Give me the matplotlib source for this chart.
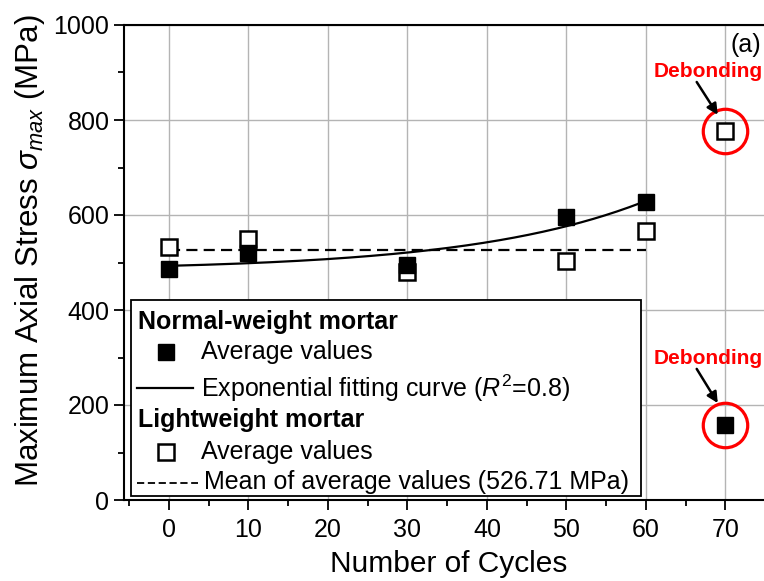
import numpy as np
import matplotlib
matplotlib.use("Agg")
import matplotlib.pyplot as plt
from matplotlib.lines import Line2D
from matplotlib.patches import Rectangle

plt.rcParams['font.family'] = ['Liberation Sans', 'DejaVu Sans']
plt.rcParams['mathtext.fontset'] = 'custom'
plt.rcParams['mathtext.rm'] = 'Liberation Sans'
plt.rcParams['mathtext.it'] = 'Liberation Sans:italic'
plt.rcParams['mathtext.bf'] = 'Liberation Sans:bold'

# ---- data ----
cycles = [0, 10, 30, 50, 60, 70]
normal_avg = [486, 519, 494, 595, 627, 158]
light_avg = [533, 549, 480, 503, 566, 777]
light_mean = 526.71
# exponential fit y = y0 + A*exp(x/t)
fit_y0, fit_A, fit_t = 483.3, 9.69, 22.1
fit_range = (0, 60)
xticks = [0, 10, 20, 30, 40, 50, 60, 70]
yticks = [0, 200, 400, 600, 800, 1000]

fig = plt.figure(figsize=(7.64, 5.81), dpi=100)
W, H = 764, 581
x0px, x1px = 124, 773
ybot, ytop = 500, 25
ax = fig.add_axes([x0px / W, 1 - ybot / H, (x1px - x0px) / W, (ybot - ytop) / H])
ax.set_xlim(-5.66, 76)
ax.set_ylim(0, 1000)

ax.set_xticks(xticks)
ax.set_yticks(yticks)
ax.set_xticks(np.arange(-5, 76, 5), minor=True)
ax.set_yticks(np.arange(0, 1001, 100), minor=True)
ax.tick_params(axis='both', which='major', labelsize=18, length=7, width=1.3, direction='out')
ax.tick_params(axis='both', which='minor', length=4, width=1.3, direction='out')
ax.tick_params(axis='x', which='major', pad=6)
for s in ax.spines.values():
    s.set_linewidth(1.5)
ax.grid(True, which='major', color='#b4b4b4', linewidth=1.0)
ax.set_axisbelow(True)

# fit curve
xf = np.linspace(fit_range[0], fit_range[1], 200)
yf = fit_y0 + fit_A * np.exp(xf / fit_t)
ax.plot(xf, yf, color='black', lw=1.6, zorder=3)
# mean line
ax.plot([0, 60], [light_mean, light_mean], color='black', lw=1.6, ls=(0, (5, 2.8)), zorder=3)

ax.plot(cycles, light_avg, ls='none', marker='s', markersize=11, markerfacecolor='white',
        markeredgecolor='black', markeredgewidth=1.8, zorder=4)
ax.plot(cycles, normal_avg, ls='none', marker='s', markersize=12, markerfacecolor='black',
        markeredgecolor='black', zorder=5)

# red circles around debonding points
ax.plot([cycles[-1]], [light_avg[-1]], ls='none', marker='o', markersize=32,
        markerfacecolor='none', markeredgecolor='red', markeredgewidth=2.3, zorder=6)
ax.plot([cycles[-1]], [normal_avg[-1]], ls='none', marker='o', markersize=32,
        markerfacecolor='none', markeredgecolor='red', markeredgewidth=2.3, zorder=6)

for ytxt, ystart, ytip in [(903, 880, 811), (297, 276, 204)]:
    ax.text(67.8, ytxt, 'Debonding', ha='center', va='center', color='red',
            fontsize=15, fontweight='bold', zorder=7)
    ax.annotate('', xy=(69.05, ytip), xytext=(66.4, ystart),
                arrowprops=dict(arrowstyle='-|>', color='black', lw=1.8, mutation_scale=16,
                                shrinkA=0, shrinkB=0), zorder=7)

ax.text(72.6, 958, '(a)', fontsize=18, ha='center', va='center')

ax.set_xlabel('Number of Cycles', fontsize=21.5, labelpad=6)
ax.set_ylabel(r'Maximum Axial Stress $\sigma_{max}$ (MPa)', fontsize=22.5)
ax.yaxis.set_label_coords(-0.118, 0.524)

# ---- legend (manual) ----
def px(x, y):
    return ((x - x0px) / (x1px - x0px), (ybot - y) / (ybot - ytop))

bx0, by0 = px(131, 496)
bx1, by1 = px(641, 300)
ax.add_patch(Rectangle((bx0, by0), bx1 - bx0, by1 - by0, transform=ax.transAxes,
                       facecolor='white', edgecolor='black', lw=1.3, zorder=8))
fs = 18
rows = [322, 352, 388, 420, 452, 482]
tx = px(138, 0)[0]
ix = px(201, 0)[0]
ax.text(tx, px(0, rows[0])[1], 'Normal-weight mortar', transform=ax.transAxes, fontsize=fs,
        fontweight='bold', va='center', ha='left', zorder=9)
ax.add_line(Line2D([px(166, 0)[0]], [px(0, rows[1])[1]], transform=ax.transAxes, marker='s',
                   markersize=12, color='black', zorder=9))
ax.text(ix, px(0, rows[1])[1], 'Average values', transform=ax.transAxes, fontsize=fs,
        va='center', ha='left', zorder=9)
ax.add_line(Line2D([px(137, 0)[0], px(193, 0)[0]], [px(0, rows[2])[1]] * 2, transform=ax.transAxes,
                   color='black', lw=1.6, zorder=9))
ax.text(ix, px(0, rows[2])[1], r'Exponential fitting curve ($R^2$=0.8)', transform=ax.transAxes,
        fontsize=fs, va='center', ha='left', zorder=9)
ax.text(tx, px(0, rows[3])[1], 'Lightweight mortar', transform=ax.transAxes, fontsize=fs,
        fontweight='bold', va='center', ha='left', zorder=9)
ax.add_line(Line2D([px(166, 0)[0]], [px(0, rows[4])[1]], transform=ax.transAxes, marker='s',
                   markersize=11, markerfacecolor='white', markeredgecolor='black',
                   markeredgewidth=1.8, zorder=9))
ax.text(ix, px(0, rows[4])[1], 'Average values', transform=ax.transAxes, fontsize=fs,
        va='center', ha='left', zorder=9)
ax.add_line(Line2D([px(137, 0)[0], px(198, 0)[0]], [px(0, rows[5] + 1)[1]] * 2, transform=ax.transAxes,
                   color='black', lw=1.3, ls=(0, (4, 2)), zorder=9))
ax.text(px(204, 0)[0], px(0, rows[5])[1], 'Mean of average values (526.71 MPa)', transform=ax.transAxes,
        fontsize=fs, va='center', ha='left', zorder=9)

fig.savefig('out.png', dpi=100)
